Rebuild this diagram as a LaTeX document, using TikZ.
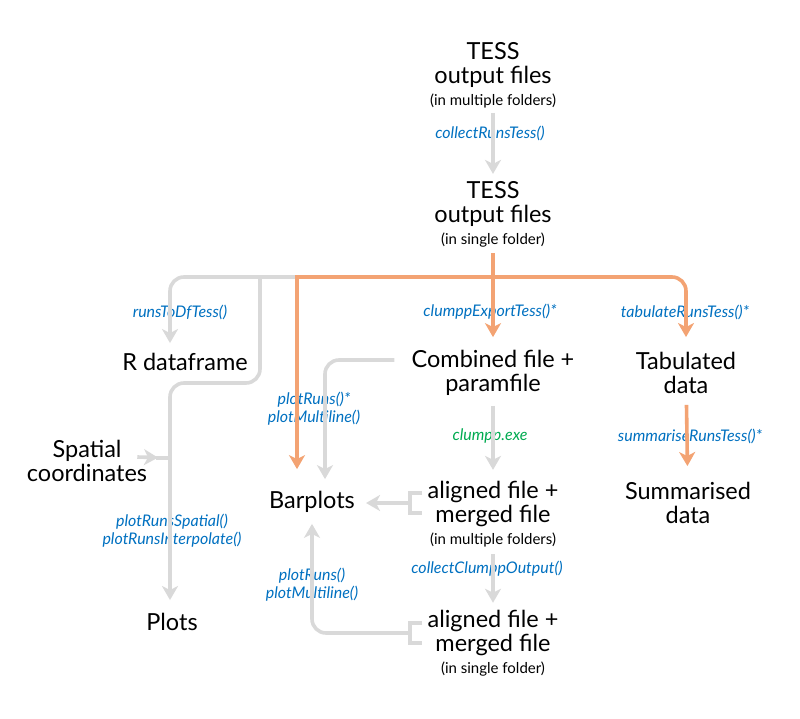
\documentclass[tikz,border=0pt]{standalone}
\usepackage{fontspec}
\setmainfont{Lato}
\usepackage{tikz}
\usetikzlibrary{arrows.meta}

\definecolor{fnblue}{RGB}{0,112,192}
\definecolor{fngreen}{RGB}{0,170,80}
\definecolor{pathgrey}{RGB}{217,217,217}
\definecolor{pathorange}{RGB}{243,163,115}

\newcommand{\subline}[1]{{\fontsize{15}{17}\selectfont #1}}

\tikzset{
  block/.style={font=\fontsize{23.5}{24}\selectfont, align=center, inner sep=2pt},
  fn/.style={font=\fontsize{16}{18}\selectfont\itshape, text=fnblue, align=center, inner sep=1pt},
  greyline/.style={draw=pathgrey, line width=3.6pt},
  greyarrow/.style={greyline, -{Stealth[length=14pt,width=16pt,inset=4pt]}},
  orangeline/.style={draw=pathorange, line width=3.6pt},
  orangearrow/.style={orangeline, -{Stealth[length=14pt,width=16pt,inset=4pt]}},
}

\begin{document}
\begin{tikzpicture}[x=1pt,y=-1pt]
\useasboundingbox (0,0) rectangle (800,719);

% main blocks
\node[block] (tessmulti) at (493,75) {TESS\\output files\\[-2pt]\subline{(in multiple folders)}};
\node[block] (tesssingle) at (493,214) {TESS\\output files\\[-2pt]\subline{(in single folder)}};
\node[block] (rdf) at (185,362) {R dataframe};
\node[block] (combined) at (493,373) {Combined file +\\paramfile};
\node[block] (tabulated) at (686,373) {Tabulated\\data};
\node[block] (spatial) at (87,461) {Spatial\\coordinates};
\node[block] (barplots) at (312,502) {Barplots};
\node[block] (aligned1) at (493,514) {aligned file +\\merged file\\[-2pt]\subline{(in multiple folders)}};
\node[block] (summarised) at (688,503) {Summarised\\data};
\node[block] (plots) at (172,622) {Plots};
\node[block] (aligned2) at (493,643) {aligned file +\\merged file\\[-2pt]\subline{(in single folder)}};

% function names
\node[fn] (fcollect) at (490,133) {collectRunsTess()};
\node[fn] (fdf) at (180,312) {runsToDfTess()};
\node[fn] (fexport) at (490,312) {clumppExportTess()*};
\node[fn] (ftab) at (685,312) {tabulateRunsTess()*};
\node[fn] (fplot1) at (314,409) {plotRuns()*\\plotMultiline()};
\node[fn, text=fngreen] (fexe) at (490,436) {clumpp.exe};
\node[fn] (fsum) at (690,436) {summariseRunsTess()*};
\node[fn] (fspatial) at (172,531) {plotRunsSpatial()\\plotRunsInterpolate()};
\node[fn] (fplot2) at (312,585) {plotRuns()\\plotMultiline()};
\node[fn] (fclumpp) at (487,569) {collectClumppOutput()};

% junctions
\coordinate (hub) at (493,277);
\coordinate (split) at (297,277);
\coordinate (fork) at (260,277);
\coordinate (bend) at (170,383);
\coordinate (join) at (170,458);

% grey paths
\draw[greyarrow, shorten <=3pt, shorten >=5pt] (tessmulti) -- (tesssingle);
\draw[greyarrow, rounded corners=14pt, shorten >=8pt] (split) -| (rdf.north -| bend);
\draw[greyline, rounded corners=14pt] (fork) |- (bend) -- (join);
\draw[greyarrow, shorten >=11pt] (join) -- (plots.north -| join);
\draw[greyarrow, shorten >=12pt] ([shift={(-12pt,4pt)}]spatial.east) -- (join);
\draw[greyline] ([xshift=-14pt]join) -- (join);
\draw[greyarrow, rounded corners=14pt, shorten >=10pt] ([shift={(-15pt,13pt)}]combined.west) -| ([xshift=13pt]barplots.north);
\draw[greyarrow, shorten <=8pt, shorten >=9pt] (combined) -- (aligned1);
\draw[greyarrow, shorten <=5pt, shorten >=5pt] (aligned1) -- (aligned2);

% brackets
\draw[greyline] (422,493) -- (410,493) -- (410,513) -- (422,513);
\coordinate (bracketa) at (410,503);
\draw[greyarrow, shorten >=9pt] (bracketa) -- (barplots.east |- bracketa);
\draw[greyline] (422,623) -- (410,623) -- (410,643) -- (422,643);
\coordinate (bracketb) at (410,633);
\draw[greyarrow, rounded corners=14pt, shorten >=9pt] (bracketb) -| (barplots.south);

% orange paths
\draw[orangeline, shorten <=4pt] (tesssingle) -- (hub);
\draw[orangearrow, shorten >=11pt] (hub) -- (combined);
\draw[orangearrow, shorten >=20pt] (hub) -- (split) -- (barplots.north -| split);
\draw[orangearrow, rounded corners=14pt, shorten >=13pt] (hub) -| (tabulated.north);
\draw[orangearrow, shorten <=9pt, shorten >=14pt] (tabulated) -- (summarised);

\end{tikzpicture}
\end{document}
